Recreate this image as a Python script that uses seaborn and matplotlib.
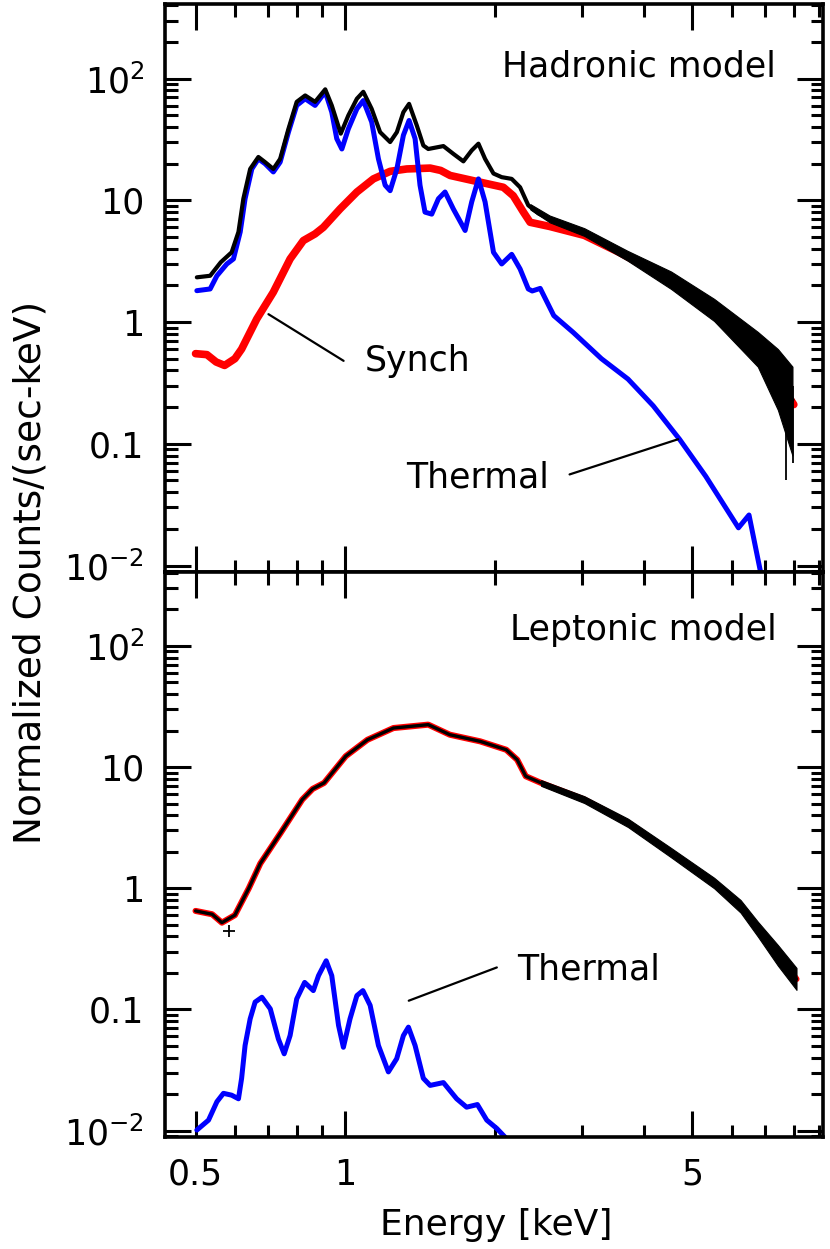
import numpy as np
import pandas as pd
import seaborn as sns
import matplotlib
matplotlib.use("Agg")
from matplotlib import pyplot as plt
from matplotlib import font_manager
from matplotlib.ticker import FixedLocator, FixedFormatter, NullFormatter, LogLocator

# ---- hadronic model (top panel) ----
had_data_E = [0.503, 0.535, 0.562, 0.591, 0.61, 0.624, 0.644, 0.669, 0.69, 0.717, 0.74, 0.769, 0.799,
              0.831, 0.870, 0.912, 0.940, 0.980, 1.015, 1.056, 1.088, 1.131, 1.176, 1.232, 1.271, 1.31,
              1.345, 1.394, 1.437, 1.47, 1.577, 1.651, 1.73, 1.798, 1.855, 1.913, 1.989, 2.066, 2.164,
              2.25, 2.337, 2.45, 2.58, 3.03, 3.70, 4.53, 5.53, 6.77, 7.95]
had_data_y = [2.33, 2.4, 3.1, 3.74, 5.5, 10.3, 18.1, 22.7, 20.6, 18.1, 21.9, 38.6, 64.4,
              72.7, 64.4, 81.6, 60.2, 35.3, 49.8, 68.3, 77.9, 56.4, 36.3, 30.1, 36.3, 53.0,
              62.0, 41.2, 28.2, 26.4, 27.9, 24.1, 20.9, 25.7, 29.2, 21.9, 16.6, 15.5, 15.0,
              12.8, 9.1, 7.8, 7.0, 5.5, 3.5, 2.26, 1.28, 0.6, 0.23]
had_tail_E = [2.36, 2.58, 3.03, 3.70, 4.53, 5.53, 6.77, 7.43, 7.95]
had_tail_hi = [9.3, 7.5, 5.9, 3.85, 2.6, 1.55, 0.83, 0.60, 0.43]
had_tail_lo = [8.4, 6.6, 5.1, 3.2, 1.87, 1.02, 0.43, 0.19, 0.08]
had_spike_E = [7.72, 7.98]
had_spike_lo = [0.05, 0.07]
had_spike_hi = [0.20, 0.30]

had_therm_E = [0.503, 0.535, 0.552, 0.578, 0.596, 0.615, 0.629, 0.649, 0.669, 0.69, 0.717, 0.740,
               0.769, 0.799, 0.831, 0.870, 0.912, 0.940, 0.962, 0.985, 1.015, 1.056, 1.088, 1.131,
               1.167, 1.204, 1.232, 1.271, 1.31, 1.345, 1.383, 1.415, 1.448, 1.494, 1.541, 1.589,
               1.651, 1.744, 1.798, 1.855, 1.913, 1.989, 2.066, 2.164, 2.25, 2.337, 2.38, 2.47,
               2.63, 2.88, 3.28, 3.71, 4.17, 4.71, 5.32, 6.19, 6.5, 6.84, 6.95]
had_therm_y = [1.81, 1.87, 2.4, 3.0, 3.3, 5.5, 10.3, 18.1, 21.9, 20.0, 17.1, 20.6,
               36.3, 60.2, 68.3, 60.2, 77.9, 53.0, 32.1, 26.4, 38.6, 56.4, 66.0, 44.0,
               21.9, 13.3, 12.0, 18.1, 34.2, 45.3, 32.1, 13.3, 8.0, 7.7, 10.3, 11.7,
               8.5, 5.65, 9.7, 15.0, 9.7, 3.74, 3.0, 3.6, 2.73, 1.87, 1.8, 1.89,
               1.13, 0.82, 0.5, 0.34, 0.205, 0.109, 0.054, 0.0204, 0.026, 0.0093, 0.007]

had_synch_E = [0.50, 0.527, 0.55, 0.572, 0.60, 0.619, 0.664, 0.717, 0.775, 0.824, 0.870, 0.904,
               0.977, 1.056, 1.14, 1.232, 1.331, 1.483, 1.557, 1.627, 1.812, 2.082, 2.18, 2.285,
               2.357, 2.58, 3.03, 3.56, 4.53, 5.53, 6.77, 8.0]
had_synch_y = [0.55, 0.54, 0.47, 0.44, 0.5, 0.6, 1.06, 1.76, 3.3, 4.67, 5.3, 6.0,
               8.5, 11.7, 15.0, 17.3, 18.1, 18.4, 17.6, 16.0, 14.5, 12.8, 10.9, 8.0,
               6.6, 6.1, 5.15, 3.74, 2.2, 1.25, 0.58, 0.21]

# ---- leptonic model (bottom panel) ----
lep_data_E = [0.50, 0.54, 0.565, 0.60, 0.64, 0.675, 0.742, 0.82, 0.86, 0.907, 1.003, 1.109, 1.251,
              1.47, 1.625, 1.871, 2.11, 2.22, 2.31, 2.48, 3.03, 3.71, 4.53, 5.53, 6.25, 6.77, 7.43, 8.1]
lep_data_y = [0.65, 0.61, 0.52, 0.6, 1.0, 1.6, 2.87, 5.4, 6.6, 7.4, 12.3, 16.8, 21.0,
              22.4, 18.5, 16.3, 13.9, 11.5, 8.4, 7.4, 5.4, 3.47, 1.97, 1.11, 0.71, 0.46, 0.28, 0.178]
lep_tail_E = [2.48, 3.03, 3.71, 4.53, 5.53, 6.25, 6.77, 7.43, 8.1]
lep_tail_hi = [7.8, 5.75, 3.75, 2.15, 1.22, 0.80, 0.53, 0.34, 0.22]
lep_tail_lo = [7.0, 5.05, 3.2, 1.8, 1.0, 0.63, 0.40, 0.23, 0.145]
lep_point_E = [0.583]
lep_point_y = [0.445]

lep_therm_E = [0.503, 0.531, 0.552, 0.569, 0.591, 0.61, 0.619, 0.629, 0.644, 0.659, 0.68, 0.707,
               0.734, 0.754, 0.775, 0.799, 0.829, 0.863, 0.884, 0.916, 0.940, 0.970, 0.992, 1.023,
               1.056, 1.086, 1.123, 1.167, 1.222, 1.27, 1.31, 1.341, 1.383, 1.437, 1.483, 1.577,
               1.677, 1.756, 1.846, 1.928, 2.02, 2.1]
lep_therm_y = [0.0101, 0.0122, 0.0173, 0.0203, 0.0196, 0.0183, 0.027, 0.0504, 0.0836, 0.115, 0.126, 0.101,
               0.057, 0.043, 0.061, 0.122, 0.167, 0.143, 0.19, 0.252, 0.19, 0.0738, 0.0487, 0.0836,
               0.13, 0.143, 0.108, 0.0504, 0.0305, 0.0392, 0.0608, 0.0714, 0.0504, 0.027, 0.0236, 0.0249,
               0.0183, 0.0156, 0.0164, 0.0122, 0.0104, 0.0088]

y_ticks = [0.01, 0.1, 1, 10, 100]
y_ticklabels = [r'$10^{-2}$', '0.1', '1', '10', r'$10^{2}$']
x_major = [0.5, 1, 5]
x_ticklabels = ['0.5', '1', '5']
x_minor = [0.6, 0.7, 0.8, 0.9, 2, 3, 4, 6, 7, 8, 9]

sns.set_style("ticks")
plt.rcParams['font.family'] = ['DejaVu Sans']
plt.rcParams['mathtext.fontset'] = 'dejavusans'
plt.rcParams['text.color'] = 'black'
plt.rcParams['xtick.color'] = 'black'
plt.rcParams['ytick.color'] = 'black'
plt.rcParams['lines.solid_joinstyle'] = 'round'
plt.rcParams['lines.solid_capstyle'] = 'round'

fig = plt.figure(figsize=(8.3, 12.49), dpi=100)
ax_top = fig.add_axes([0.1988, 0.5423, 0.7928, 0.4545])
ax_bot = fig.add_axes([0.1988, 0.0899, 0.7928, 0.4524])

FS = 25
for ax in (ax_top, ax_bot):
    ax.set_xscale('log')
    ax.set_yscale('log')
    ax.set_xlim(0.434, 9.16)
    ax.set_ylim(0.0089, 410)
    for s in ax.spines.values():
        s.set_linewidth(2.6)
        s.set_color('black')
    ax.xaxis.set_major_locator(FixedLocator(x_major))
    ax.xaxis.set_minor_locator(FixedLocator(x_minor))
    ax.xaxis.set_major_formatter(FixedFormatter(x_ticklabels))
    ax.xaxis.set_minor_formatter(NullFormatter())
    ax.yaxis.set_major_locator(FixedLocator(y_ticks))
    ax.yaxis.set_major_formatter(FixedFormatter(y_ticklabels))
    ax.yaxis.set_minor_locator(LogLocator(base=10, subs=np.arange(2, 10)))
    ax.yaxis.set_minor_formatter(NullFormatter())
    ax.tick_params(which='major', direction='in', length=19, width=2.2, top=True, right=True,
                   labelsize=FS, pad=15, colors='black')
    ax.tick_params(which='minor', direction='in', length=9, width=2.2, top=True, right=True,
                   colors='black')

ax_top.tick_params(labelbottom=False)

# top panel curves
sns.lineplot(x=had_synch_E, y=had_synch_y, ax=ax_top, color='#ff0000', lw=5.5, sort=False, estimator=None)
ax_top.fill_between(had_tail_E, had_tail_lo, had_tail_hi, color='black', lw=0.8, zorder=2.5)
ax_top.vlines(had_spike_E, had_spike_lo, had_spike_hi, color='black', lw=1.3, zorder=2.5)
sns.lineplot(x=had_therm_E, y=had_therm_y, ax=ax_top, color='#0000ff', lw=3.6, sort=False, estimator=None)
sns.lineplot(x=had_data_E, y=had_data_y, ax=ax_top, color='black', lw=3.0, sort=False, estimator=None)

# bottom panel curves
sns.lineplot(x=lep_data_E, y=lep_data_y, ax=ax_bot, color='#ff0000', lw=4.4, sort=False, estimator=None)
ax_bot.fill_between(lep_tail_E, lep_tail_lo, lep_tail_hi, color='black', lw=0.8, zorder=2.5)
sns.lineplot(x=lep_data_E, y=lep_data_y, ax=ax_bot, color='black', lw=2.4, sort=False, estimator=None)
ax_bot.plot(lep_point_E, lep_point_y, marker='+', color='black', ms=9, mew=1.3, ls='none')
sns.lineplot(x=lep_therm_E, y=lep_therm_y, ax=ax_bot, color='#0000ff', lw=3.6, sort=False, estimator=None)

for ax in (ax_top, ax_bot):
    ax.set_xlabel('')
    ax.set_ylabel('')

# annotations
ax_top.text(0.929, 0.8714, 'Hadronic model', transform=ax_top.transAxes, ha='right', va='baseline', fontsize=FS)
ax_bot.text(0.929, 0.879, 'Leptonic model', transform=ax_bot.transAxes, ha='right', va='baseline', fontsize=FS)
ax_top.plot([0.701, 0.993], [1.16, 0.48], color='black', lw=1.6)
ax_top.text(1.097, 0.397, 'Synch', ha='left', va='baseline', fontsize=FS)
ax_top.plot([2.83, 4.68], [0.056, 0.109], color='black', lw=1.6)
ax_top.text(1.329, 0.0436, 'Thermal', ha='left', va='baseline', fontsize=FS)
ax_bot.plot([1.343, 2.02], [0.118, 0.222], color='black', lw=1.6)
ax_bot.text(2.218, 0.178, 'Thermal', ha='left', va='baseline', fontsize=FS)

fig.text(0.5976, 0.0112, 'Energy [keV]', ha='center', va='baseline', fontsize=FS + 1)

names = {f.name for f in font_manager.fontManager.ttflist}
if 'Liberation Sans Narrow' in names:
    fig.text(0.037, 0.542, 'Normalized Counts/(sec-keV)', rotation=90, ha='center', va='center',
             fontsize=38, family=['Liberation Sans Narrow', 'DejaVu Sans'])
else:
    fig.text(0.037, 0.542, 'Normalized Counts/(sec-keV)', rotation=90, ha='center', va='center',
             fontsize=27)

fig.savefig('out.png', dpi=100)
